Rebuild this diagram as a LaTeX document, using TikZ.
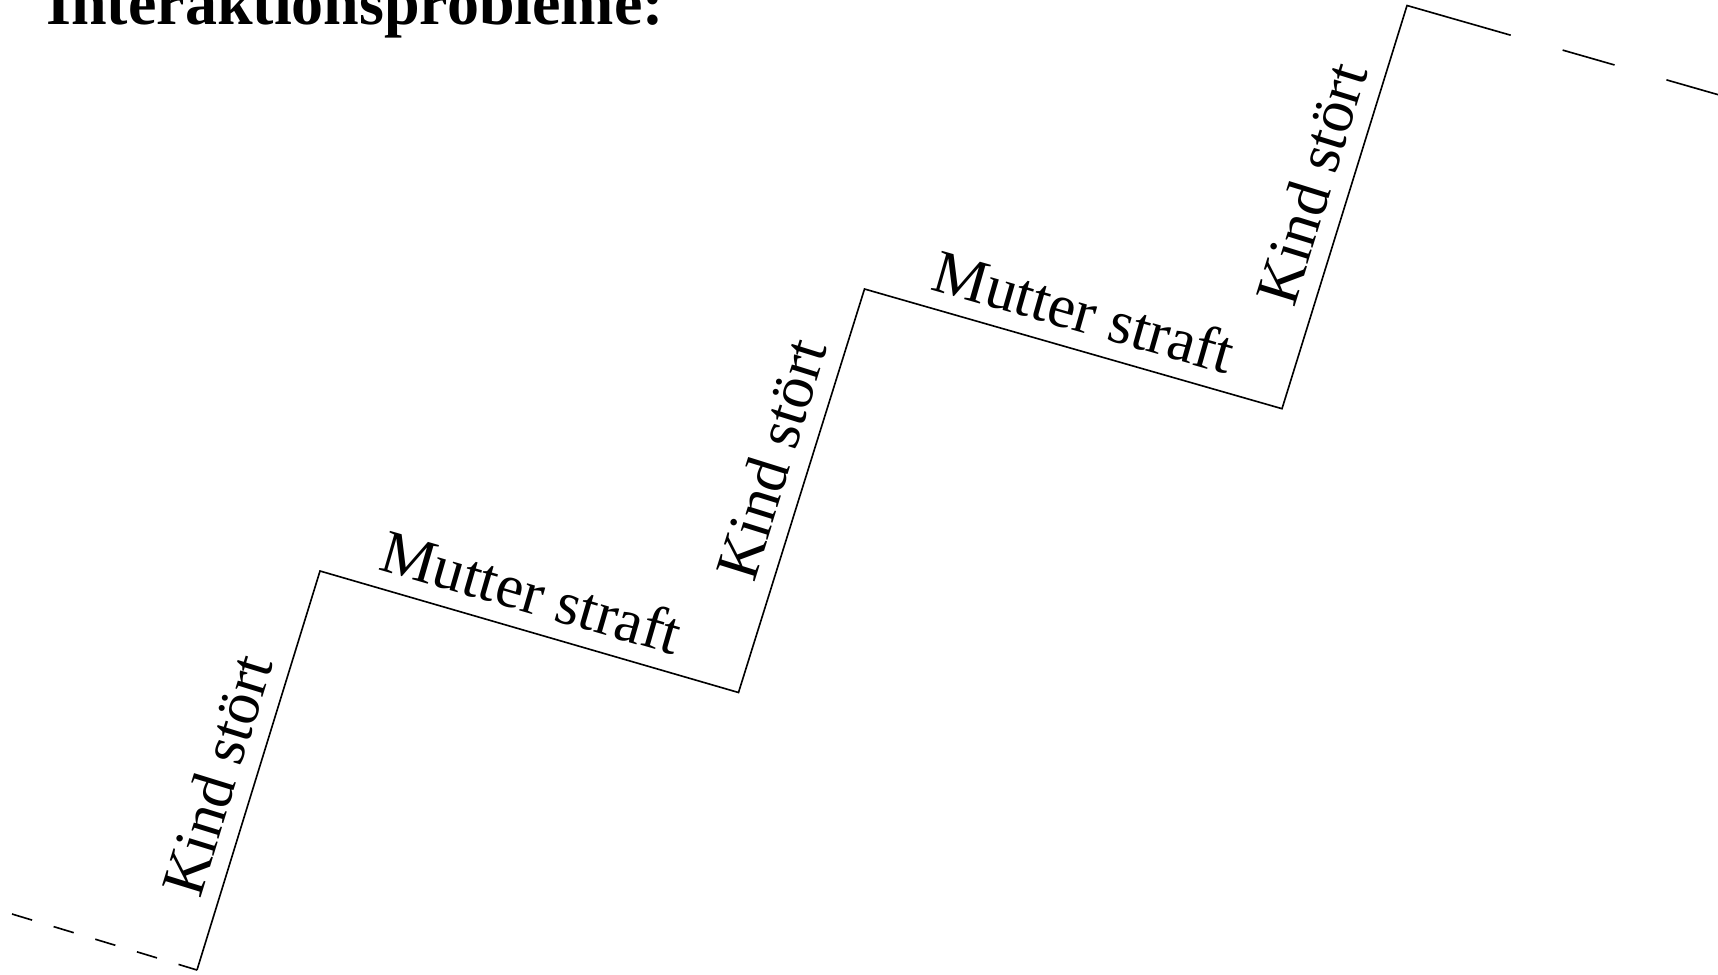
\documentclass[tikz,border=0pt]{standalone}
\usepackage{fontspec}
\setmainfont{Liberation Serif}
\begin{document}
\begin{tikzpicture}[x=0.4pt, y=-0.4pt,
    stair/.style={line width=0.65pt, line join=miter},
    lbl/.style={sloped, anchor=south, inner xsep=0pt, inner ysep=6.5pt,
                font=\fontsize{24.6pt}{30pt}\selectfont},
    titlefont/.style={font=\bfseries\fontsize{25.6pt}{30pt}\selectfont}]
  \useasboundingbox (0,0) rectangle (1718,974);

  % title
  \node[titlefont, anchor=base west, inner sep=0pt] (title) at (46,24) {Interaktionsprobleme:};

  % corners of the staircase
  \coordinate (s0) at (12,914);
  \coordinate (c1) at (197,970);
  \coordinate (c2) at (320,571);
  \coordinate (c3) at (738.5,692.5);
  \coordinate (c4) at (864.5,289);
  \coordinate (c5) at (1282,408.7);
  \coordinate (c6) at (1407,5.5);
  \coordinate (c7) at (1510.7,35.2);
  \coordinate (e0) at (1760,106.7);

  % dashed lead-in and lead-out
  \draw[stair, dash pattern=on 8.4pt off 9pt] (s0) -- (c1);
  \draw[stair, dash pattern=on 21.6pt off 21.6pt, dash phase=21.6pt] (c7) -- (e0);

  % the steps
  \draw[stair] (c1)
    -- node[lbl, pos=0.46] (k1) {Kind stört} (c2)
    -- node[lbl, pos=0.48] (m1) {Mutter straft} (c3)
    -- node[lbl, pos=0.55] (k2) {Kind stört} (c4)
    -- node[lbl, pos=0.50] (m2) {Mutter straft} (c5)
    -- node[lbl, pos=0.53] (k3) {Kind stört} (c6)
    -- (c7);
\end{tikzpicture}
\end{document}
